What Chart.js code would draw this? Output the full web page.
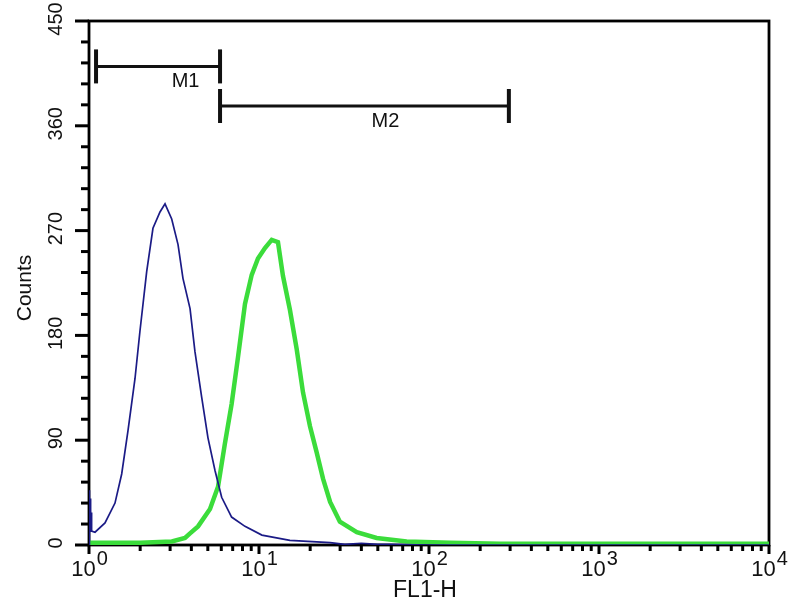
<!DOCTYPE html>
<html lang="en">
<head>
<meta charset="UTF-8">
<title>FL1-H histogram</title>
<style>
    html, body { margin: 0; padding: 0; background: #fff; }
    #box { width: 800px; height: 600px; }
</style>
<script src="https://cdn.jsdelivr.net/npm/chart.js"></script>
</head>
<body>
<div id="box"><canvas id="flow" width="800" height="600"></canvas></div>
<script>
    // control sample (blue)
    const blueX = [1.0, 1.0, 1.004, 1.008, 1.012, 1.016, 1.02, 1.024, 1.028, 1.032, 1.04, 1.085, 1.242, 1.422, 1.557, 1.695, 1.865, 1.995,
                   2.185, 2.378, 2.616, 2.8, 3.065, 3.34, 3.57, 3.93, 4.2, 4.6, 5.01, 5.51, 6.03, 6.9, 8.27,
                   10.4, 15.2, 26.2, 32, 40, 50, 58.9, 100, 10000];
    const blueY = [0, 47, 18, 45, 12, 40, 14, 30, 12, 28, 12, 11, 19, 36, 61, 98, 143, 184,
                   235, 272, 286, 293, 280, 258, 229, 203, 166, 127, 92, 64, 41, 24, 16,
                   8.5, 4, 2, 0.5, 1.5, 0.5, 0.5, 0, 0];

    // stained sample (green)
    const greenX = [1.0, 2.0, 3.07, 3.67, 3.93, 4.38, 5.15, 5.74, 6.3, 6.9, 7.52, 8.27, 9.06, 9.86, 10.84,
                    11.88, 12.93, 13.84, 15.2, 16.67, 18.15, 19.95, 21.8, 23.8, 26.2, 29.9, 37.6, 49.2, 73.9,
                    133, 262, 1000, 10000];
    const greenY = [2, 2, 3, 6, 10, 16, 31, 50, 87, 121, 161, 207, 232, 246, 255,
                    262, 260, 231, 202, 168, 131, 102, 80, 57, 37, 20, 11, 6, 3,
                    2, 1, 1, 1];

    // gate markers
    const markerNames = ['M1', 'M2'];
    const markerFrom = [1.1, 5.9];
    const markerTo = [5.9, 295];
    const markerLevel = [411, 377];
    const markerLabelX = [3.6, 54];

    // axes
    const yTicks = [0, 90, 180, 270, 360, 450];
    const yMinorStep = 18;
    const xDecades = [0, 1, 2, 3, 4];

    const pts = (xs, ys) => xs.map((x, i) => ({ x: x, y: ys[i] }));

    const datasets = [
        {
            label: 'control',
            data: pts(blueX, blueY),
            borderColor: '#1b1b86',
            borderWidth: 1.7,
            pointRadius: 0,
            tension: 0
        },
        {
            label: 'stained',
            data: pts(greenX, greenY),
            borderColor: '#3bdc3b',
            borderWidth: 4.5,
            pointRadius: 0,
            tension: 0
        }
    ];
    markerNames.forEach((n, i) => {
        datasets.push({
            label: n,
            data: [{ x: markerFrom[i], y: markerLevel[i] }, { x: markerTo[i], y: markerLevel[i] }],
            borderColor: '#111',
            borderWidth: 3,
            pointStyle: 'line',
            pointRotation: 90,
            pointRadius: 17,
            pointBorderWidth: 4,
            pointBorderColor: '#111',
            clip: false
        });
    });

    const FONT = '"Liberation Sans", Arial, sans-serif';

    // frame, ticks, labels drawn with the chart's scales
    const decor = {
        id: 'decor',
        beforeDatasetsDraw(chart) {
            const ctx = chart.ctx, a = chart.chartArea;
            const xs = chart.scales.x, ys = chart.scales.y;
            ctx.save();
            ctx.strokeStyle = '#000';
            ctx.lineWidth = 2.8;
            ctx.strokeRect(a.left, a.top, a.right - a.left, a.bottom - a.top);

            // y ticks
            ctx.lineWidth = 3;
            for (let v = 0; v <= yTicks[yTicks.length - 1]; v += yMinorStep) {
                const py = ys.getPixelForValue(v);
                const len = yTicks.includes(v) ? 14 : 8;
                ctx.beginPath();
                ctx.moveTo(a.left - len, py);
                ctx.lineTo(a.left, py);
                ctx.stroke();
            }
            // x ticks (log)
            for (let d = 0; d < xDecades.length - 1; d++) {
                for (let m = 1; m <= 9; m++) {
                    const px = xs.getPixelForValue(m * Math.pow(10, xDecades[d]));
                    const len = m === 1 ? 9 : 6;
                    ctx.beginPath();
                    ctx.moveTo(px, a.bottom);
                    ctx.lineTo(px, a.bottom + len);
                    ctx.stroke();
                }
            }
            const pxEnd = xs.getPixelForValue(Math.pow(10, xDecades[xDecades.length - 1]));
            ctx.beginPath();
            ctx.moveTo(pxEnd, a.bottom);
            ctx.lineTo(pxEnd, a.bottom + 9);
            ctx.stroke();

            ctx.fillStyle = '#111';
            // y labels, rotated
            ctx.font = '20px ' + FONT;
            ctx.textAlign = 'center';
            ctx.textBaseline = 'middle';
            yTicks.forEach(v => {
                const py = ys.getPixelForValue(v);
                ctx.save();
                ctx.translate(56, py - 2);
                ctx.rotate(-Math.PI / 2);
                ctx.fillText(String(v), 0, 0);
                ctx.restore();
            });
            // x labels 10^n
            ctx.textAlign = 'left';
            ctx.textBaseline = 'alphabetic';
            xDecades.forEach(d => {
                const px = xs.getPixelForValue(Math.pow(10, d));
                ctx.font = '22px ' + FONT;
                const wb = ctx.measureText('10').width;
                ctx.font = '20px ' + FONT;
                const ws = ctx.measureText(String(d)).width;
                const x0 = px - (wb + ws) / 2;
                ctx.font = '22px ' + FONT;
                ctx.fillText('10', x0, 576);
                ctx.font = '20px ' + FONT;
                ctx.fillText(String(d), x0 + wb + 1, 565);
            });
            // axis titles
            ctx.textAlign = 'center';
            ctx.font = '23px ' + FONT;
            ctx.fillText('FL1-H', 425, 597);
            ctx.font = '21px ' + FONT;
            ctx.save();
            ctx.translate(31, 288);
            ctx.rotate(-Math.PI / 2);
            ctx.fillText('Counts', 0, 0);
            ctx.restore();

            // marker labels
            ctx.font = '20px ' + FONT;
            ctx.textBaseline = 'middle';
            markerNames.forEach((n, i) => {
                const px = xs.getPixelForValue(markerLabelX[i]);
                const py = ys.getPixelForValue(markerLevel[i]);
                ctx.fillText(n, px + 2, py + 15);
            });
            ctx.restore();
        }
    };

    new Chart(document.getElementById('flow').getContext('2d'), {
        type: 'line',
        data: { datasets: datasets },
        options: {
            responsive: false,
            animation: false,
            layout: { padding: { left: 0, top: 18, right: 31, bottom: 0 } },
            plugins: {
                legend: { display: false },
                tooltip: { enabled: false }
            },
            scales: {
                x: {
                    type: 'logarithmic',
                    min: 1,
                    max: 10000,
                    ticks: { display: false },
                    grid: { display: false },
                    border: { display: false },
                    afterFit: s => { s.height = 55; }
                },
                y: {
                    type: 'linear',
                    min: 0,
                    max: 450,
                    ticks: { display: false },
                    grid: { display: false },
                    border: { display: false },
                    afterFit: s => { s.width = 89; }
                }
            }
        },
        plugins: [decor]
    });
</script>
</body>
</html>
